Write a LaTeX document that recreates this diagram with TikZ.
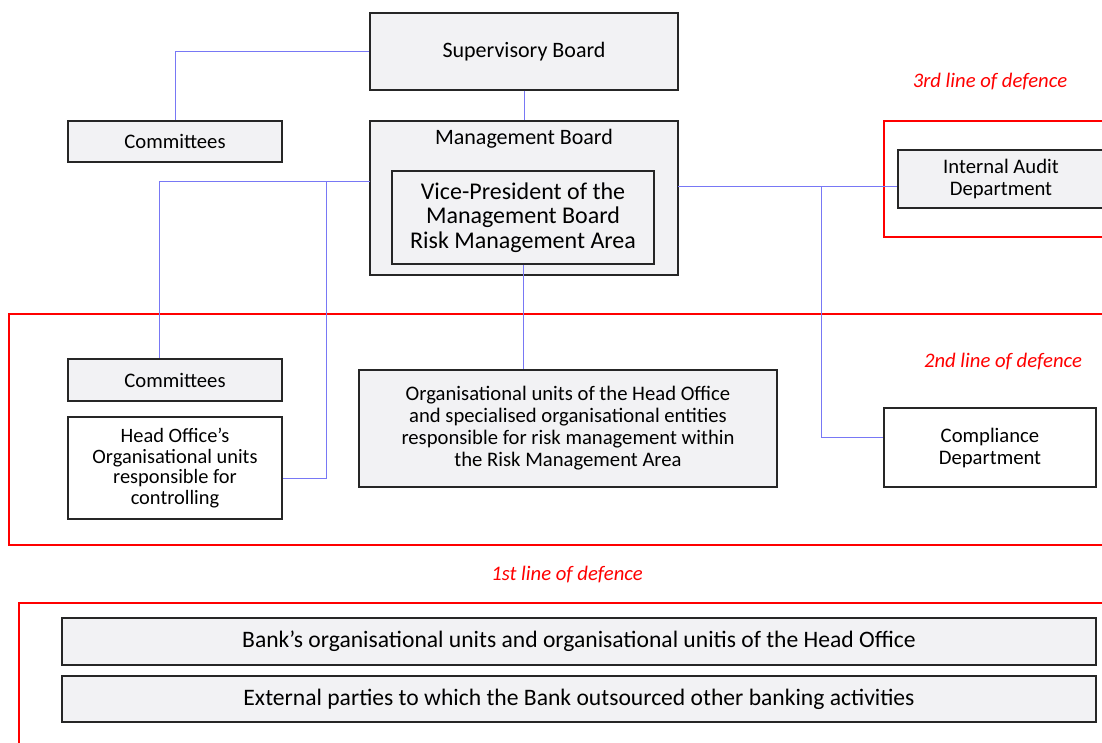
\documentclass[tikz,border=0pt]{standalone}
\usepackage{fontspec}
\setmainfont{Carlito}
\begin{document}
\begin{tikzpicture}[x=0.75pt,y=-0.75pt,
  box/.style={draw=black!85,line width=1pt,fill={rgb,255:red,242;green,242;blue,244},inner sep=2pt,align=center},
  wbox/.style={box,fill=white},
  conn/.style={draw={rgb,255:red,120;green,120;blue,245},line width=0.6pt},
  redframe/.style={draw=red,line width=0.8pt},
  redlab/.style={text=red,font=\itshape\fontsize{15.5}{18}\selectfont},
  t15/.style={font=\fontsize{15.5}{16.5}\selectfont},
]
\clip (0,0) rectangle (1102,742);
\fill[white] (0,0) rectangle (1102,742);
% red frames
\draw[redframe] (1110,121) -- (884,121) -- (884,237) -- (1110,237);
\draw[redframe] (1110,314) -- (9,314) -- (9,545) -- (1110,545);
\draw[redframe] (1110,603) -- (19,603) -- (19,750);
\node[redlab] (l3) at (990,82) {3rd line of defence};
\node[redlab] (l2) at (1003,362) {2nd line of defence};
\node[redlab] (l1) at (567,575) {1st line of defence};
% boxes
\node[box,font=\fontsize{16.5}{18}\selectfont,minimum width=231pt,minimum height=57.75pt] (sb) at (524,51.5) {Supervisory Board};
\node[box,t15,minimum width=160.5pt,minimum height=30.75pt] (c1) at (175,141.5) {Committees};
\node[box,minimum width=231pt,minimum height=115.5pt,
  label={[font=\fontsize{16.5}{18}\selectfont,anchor=north,yshift=-3pt]north:Management Board}] (mb) at (524,198) {};
\node[box,font=\fontsize{18}{18.4}\selectfont,minimum width=196.5pt,minimum height=69.75pt] (vp) at (523,217.5) {Vice-President of the\\Management Board\\Risk Management Area};
\node[box,t15,minimum width=160.5pt,minimum height=31.5pt] (c2) at (175,380) {Committees};
\node[wbox,font=\fontsize{15.3}{15.4}\selectfont,minimum width=160.5pt,minimum height=76.5pt] (ho) at (175,468) {Head Office’s\\Organisational units\\responsible for\\controlling};
\node[box,font=\fontsize{15.5}{16.5}\selectfont,minimum width=313.5pt,minimum height=87.75pt] (ou) at (568,428.5) {Organisational units of the Head Office\\and specialised organisational entities\\responsible for risk management within\\the Risk Management Area};
\node[box,t15,minimum width=154.5pt,minimum height=43.5pt] (ia) at (1001,179) {Internal Audit\\Department};
\node[wbox,t15,minimum width=159pt,minimum height=59.25pt] (cd) at (990,447.5) {Compliance\\Department};
\node[box,font=\fontsize{17.7}{19}\selectfont,minimum width=775.5pt,minimum height=35.25pt] (bk) at (579,641.5) {Bank’s organisational units and organisational unitis of the Head Office};
\node[box,font=\fontsize{17.7}{19}\selectfont,minimum width=775.5pt,minimum height=34.5pt] (ex) at (579,699) {External parties to which the Bank outsourced other banking activities};
% connectors
\coordinate (a1) at (175,51.5);
\draw[conn] (sb.west) -- (a1) -- (c1.north);
\draw[conn] (sb.south) -- (sb.south |- mb.north);
\coordinate (a2) at (370,181);
\coordinate (a3) at (159,181);
\coordinate (a4) at (326,181);
\coordinate (a5) at (326,478);
\draw[conn] (a2) -- (a3) -- (c2.north -| a3);
\draw[conn] (a4) -- (a5) -- (a5 -| ho.east);
\coordinate (b1) at (678,186);
\coordinate (b2) at (821,186);
\coordinate (b3) at (821,437);
\draw[conn] (b1) -- (b1 -| ia.west);
\draw[conn] (b2) -- (b3) -- (b3 -| cd.west);
\draw[conn] (vp.south) -- (vp.south |- ou.north);
\end{tikzpicture}
\end{document}
